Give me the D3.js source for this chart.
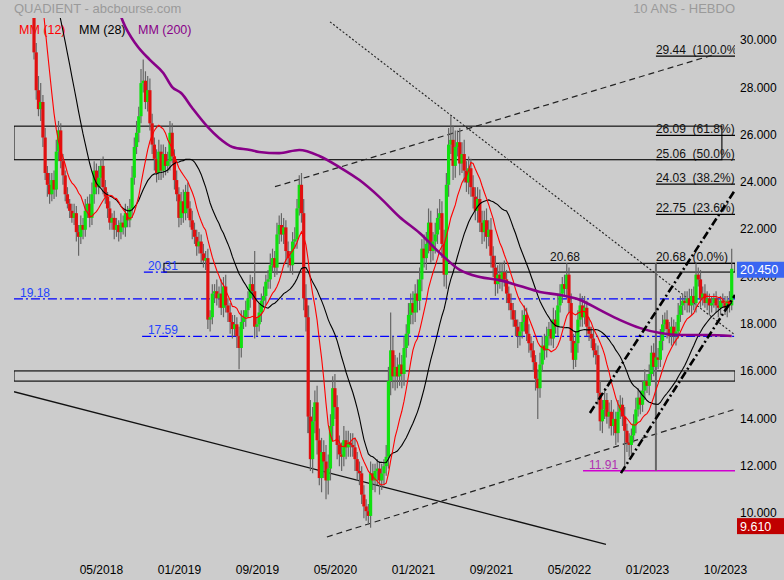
<!DOCTYPE html>
<html><head><meta charset="utf-8">
<script src="https://cdnjs.cloudflare.com/ajax/libs/d3/7.8.5/d3.min.js"></script>
<style>
html,body{margin:0;padding:0;background:#cccccc;}
svg{display:block;font-family:Arial,"Liberation Sans",sans-serif;}
</style></head><body>
<svg id="c" width="784" height="580"></svg>
<script>
// ---- DATA (weekly closes) ----
const closes = [
29.6,28.0,27.2,27.5,26.0,24.5,24.0,23.6,24.2,23.8,
25.4,26.3,25.0,24.4,23.6,23.2,22.9,22.6,22.8,22.0,
21.8,22.3,22.1,22.9,23.2,22.6,23.6,24.6,23.9,24.3,
24.8,23.9,23.5,23.0,22.4,22.6,22.1,22.3,22.0,22.4,
22.2,22.8,22.5,23.0,24.3,25.6,26.2,26.9,28.3,28.4,
27.5,28.0,26.6,25.7,25.1,24.5,25.4,24.6,25.3,24.8,
25.0,26.2,25.2,24.2,23.6,22.6,23.3,22.8,23.7,23.0,
22.5,22.1,21.8,21.4,21.6,21.1,20.8,20.9,18.3,18.4,
19.4,19.5,19.2,19.4,18.8,19.7,18.9,18.6,18.2,17.9,
18.1,17.6,17.1,18.2,18.4,18.7,19.2,19.8,19.5,18.0,
18.1,18.6,19.1,19.3,19.9,20.0,20.6,20.9,20.5,21.9,
22.3,21.9,22.2,21.2,20.9,20.6,21.6,21.7,23.0,24.0,
22.8,19.2,18.4,14.2,12.4,14.0,14.8,13.2,11.6,12.7,
12.3,11.5,12.0,13.8,15.4,14.6,13.0,12.6,12.5,13.2,
12.9,13.1,13.0,12.9,12.4,11.9,11.8,10.9,10.4,10.2,
10.0,11.8,11.5,11.9,12.0,11.5,11.8,12.1,12.5,15.7,
17.0,15.9,16.3,15.9,16.4,16.0,17.1,17.7,18.5,19.0,
18.6,19.4,19.1,20.0,21.3,20.9,21.5,22.4,21.2,21.6,
21.9,22.6,22.8,21.5,20.2,24.0,25.7,25.9,24.8,25.6,
25.8,24.9,25.3,24.6,24.1,24.7,23.9,23.5,22.9,23.4,
22.4,22.0,22.5,21.8,22.1,21.0,20.5,19.8,20.2,19.9,
20.3,20.0,19.4,19.0,18.7,18.3,18.0,17.6,17.8,18.2,
18.5,17.7,17.3,17.0,16.5,15.8,15.4,16.4,17.2,17.0,
17.6,17.9,17.5,18.3,18.0,18.9,19.4,19.8,19.6,20.2,
19.0,17.4,16.6,17.3,18.3,18.9,18.4,18.8,18.0,17.7,
17.5,17.0,16.8,15.2,14.0,14.5,14.9,14.2,14.4,13.8,
14.1,13.5,14.4,14.7,14.2,13.6,13.1,13.0,13.4,13.9,
14.5,15.0,14.7,15.3,15.7,15.5,16.0,16.9,16.3,16.7,
16.6,17.4,18.1,18.3,17.9,17.6,18.0,17.6,17.8,18.5,
18.9,19.1,19.0,19.2,18.9,19.3,19.0,20.2,20.0,19.2,
19.4,19.0,19.2,18.9,19.0,19.2,18.9,18.8,19.1,19.0,
18.8,19.1,18.9,20.45];
const firstOpen = 31.6;
// upper / lower wick lengths
const wickUp = [
1.2,0.4,0.6,0.8,0.3,0.4,0.3,0.5,0.3,0.4,
0.5,0.4,0.3,0.3,0.2,0.3,0.2,0.3,0.4,0.3,
0.3,0.4,0.3,0.5,0.3,0.4,0.5,0.4,0.3,0.5,
0.3,0.4,0.3,0.2,0.3,0.2,0.3,0.3,0.2,0.4,
0.3,0.4,0.3,0.4,0.5,0.4,0.5,0.4,0.6,0.9,
0.4,0.6,0.5,0.4,0.3,0.4,0.5,0.3,0.4,0.3,
0.4,0.5,0.4,0.3,0.4,0.3,0.4,0.5,0.3,0.4,
0.3,0.4,0.3,0.3,0.4,0.3,0.4,0.3,0.4,0.3,
0.4,0.3,0.5,0.3,0.6,0.4,0.5,0.3,0.4,0.3,
0.4,0.3,0.4,0.5,0.3,0.4,0.3,0.4,0.3,1.7,
0.3,0.4,0.3,0.4,0.3,0.4,0.5,0.4,0.3,0.5,
0.4,0.5,0.4,0.3,0.4,0.3,0.4,0.5,0.4,0.4,
0.5,0.6,0.6,0.5,0.7,0.6,0.5,0.7,0.5,0.6,
0.5,0.7,0.6,0.5,0.5,0.6,0.5,0.4,0.5,0.6,
0.4,0.5,0.4,0.5,0.4,0.3,0.4,0.3,0.4,0.3,
0.3,0.5,0.4,0.3,0.4,0.3,0.4,0.3,0.5,0.6,
1.6,0.6,0.5,0.4,0.5,0.4,0.5,0.4,0.5,0.4,
0.5,0.4,0.6,0.5,0.4,0.6,0.5,0.6,0.5,0.4,
0.5,0.4,0.6,0.5,0.6,0.5,0.7,1.0,0.6,0.7,
0.5,0.6,0.5,0.6,0.4,0.5,0.4,0.5,0.4,0.5,
0.4,0.5,0.4,0.5,0.4,0.5,0.4,0.5,0.4,0.5,
0.4,0.5,0.4,0.3,0.4,0.3,0.4,0.3,0.4,0.5,
0.4,0.3,0.4,0.3,0.4,0.3,0.4,0.5,0.4,0.5,
0.4,0.3,0.4,0.5,0.4,0.5,0.4,0.3,0.4,0.48,
0.3,0.4,0.3,0.5,0.4,0.5,0.4,0.5,0.3,0.4,
0.3,0.4,0.3,0.4,0.5,0.4,0.5,0.3,0.4,0.5,
0.4,0.3,0.5,0.4,0.3,0.4,0.3,0.4,0.3,0.4,
0.5,0.4,0.3,0.4,0.5,0.3,0.4,0.3,0.4,3.98,
0.4,0.5,0.4,0.3,0.4,0.3,0.4,0.3,0.4,0.5,
0.4,0.3,0.4,0.3,0.4,0.3,0.4,0.48,0.3,0.4,
0.3,0.4,0.3,0.2,0.3,0.2,0.3,0.3,0.2,0.3,
0.3,0.2,0.4,0.85];
const wickDown = [
0.3,0.4,0.3,0.5,0.4,0.3,0.5,0.4,0.3,0.4,
0.3,0.4,0.3,0.4,0.3,0.2,0.3,0.2,0.3,0.4,
0.8,0.3,0.4,0.3,0.3,0.4,0.3,0.4,0.3,0.3,
0.4,0.3,0.3,0.4,0.3,0.3,0.4,0.3,0.4,0.3,
0.3,0.4,0.3,0.3,0.4,0.3,0.3,0.4,0.3,0.4,
0.3,0.4,0.3,0.4,0.5,0.4,0.3,0.4,0.3,0.4,
0.3,0.4,0.3,0.4,0.3,0.4,0.3,0.4,0.3,0.4,
0.3,0.4,0.3,0.4,0.3,0.4,0.3,0.4,0.4,0.5,
0.3,0.4,0.3,0.4,0.3,0.4,0.3,0.4,0.5,0.4,
0.3,0.5,0.9,0.4,0.3,0.4,0.3,0.4,0.3,0.5,
0.4,0.3,0.4,0.3,0.4,0.3,0.4,0.3,0.4,0.3,
0.4,0.3,0.4,0.5,0.4,0.3,0.4,0.3,0.4,0.3,
0.4,0.5,0.6,0.7,0.5,0.6,0.5,0.6,0.3,0.6,
0.7,0.8,0.6,0.5,0.6,0.5,0.6,0.5,0.6,0.4,
0.5,0.4,0.5,0.4,0.5,0.4,0.5,0.4,0.5,0.4,
0.39,0.5,0.4,0.5,0.6,0.6,0.4,0.5,0.4,0.5,
0.6,0.5,0.6,0.5,0.4,0.6,0.5,0.4,0.5,0.4,
0.5,0.4,0.5,0.4,0.5,0.4,0.5,0.4,0.5,0.4,
0.5,0.4,0.5,0.6,0.5,0.6,0.5,0.4,0.6,0.5,
0.4,0.5,0.4,0.5,0.4,0.5,0.4,0.5,0.4,0.5,
0.4,0.5,0.4,0.5,0.4,0.5,0.4,0.5,0.4,0.3,
0.4,0.3,0.4,0.3,0.4,0.3,0.4,0.5,0.4,0.3,
0.4,0.3,0.4,0.3,0.4,0.5,1.3,0.4,0.3,0.4,
0.3,0.4,0.3,0.4,0.3,0.4,0.3,0.4,0.3,0.4,
0.4,0.5,0.4,0.3,0.4,0.3,0.4,0.3,0.4,0.3,
0.4,0.3,0.4,0.5,0.4,0.5,0.4,0.3,0.5,0.4,
0.4,0.5,0.4,0.3,0.4,1.69,0.4,0.5,0.4,0.3,
0.4,0.3,0.4,0.3,0.4,0.3,0.4,0.3,0.4,4.39,
0.4,0.3,0.4,0.3,0.4,0.3,0.4,0.3,0.4,0.3,
0.3,0.4,0.3,0.4,0.3,0.4,0.3,0.4,0.3,0.4,
0.3,0.2,0.3,0.4,0.3,0.2,0.3,0.4,0.3,0.2,
0.3,0.4,0.3,0.2];
// weeks before the visible window (feed the moving averages)
const priorCloses = [37.5,37.8,38.2,37.6,37.9,38.4,37.8,37.2,37.6,37.9,37.3,36.8,37.2,36.6,36.9,36.3,36.8,36.2,35.7,36.1,35.6,35.2,34.6,35.0,34.1,33.4,32.3];
// MM(200)
const mm200Idx = [38,40,46,52,58,62,66,71,78,83,89,97,101,110,119,128,137,146,155,164,173,182,191,200,209,218,227,236,245,254,263,272,281,290,302,313];
const mm200Val = [31.4,30.88,29.91,29.28,28.73,28.13,27.88,27.25,26.44,25.98,25.6,25.47,25.39,25.34,25.47,25.22,24.75,24.2,23.48,22.64,21.96,21.12,20.4,20.1,19.97,19.72,19.47,19.34,19.13,18.7,18.28,17.94,17.73,17.65,17.65,17.61];

const xTickIdx = [30,65,100,135,170,205,240,275,310];
const xTickLabels = ["05/2018","01/2019","09/2019","05/2020","01/2021","09/2021","05/2022","01/2023","10/2023"];
const yTicks = [10,12,14,16,18,20,22,24,26,28,30];

const fibLevels = [29.44,26.09,25.06,24.03,22.75,20.68];
const fibPct = ["100.0%","61.8%","50.0%","38.2%","23.6%","0.0%"];
const fibFromIdx = 279;
const lastPrice = 20.45, minPrice = 9.61;
// support / resistance zones
const zoneLow = [25.06, 20.31, 15.70];
const zoneHigh = [26.48, 20.68, 16.13];
const zoneFrom = [-9, 58.3, -9];
const zoneTo = [308.6, 314.5, 314.5];
// blue levels
const blueLevels = [19.18, 17.59, 20.31];
const blueFrom = [-9, 48.5, 49.3];
const blueTo = [314.5, 314.5, 59.7];
const blueLabelIdx = [-6.3, 51.1, 51.1];
// trend lines [i1,v1,i2,v2]
const trendSolid = [[-9, 15.25, 256.6, 8.80]];
const trendDashed = [[131.4, 9.11, 314.5, 14.51],[108.1, 23.92, 304.2, 29.48]];
const trendDotted = [[132.8, 30.89, 314.5, 17.65]];
const trendBold = [[249.4, 14.35, 314.5, 23.78],[263.3, 11.81, 314.5, 19.34]];
const lowLevel = 11.91, lowFrom = 246.3;
const highLabel = 20.68, highLabelIdx = 231.5;

// ---- CHART ----
const svg = d3.select("#c");
const W = 784, H = 580;
const plotL = 14, plotR = 735, plotT = 18, plotB = 548;
const x = d3.scaleLinear().domain([0, 313]).range([34, 731.7]);
const y = d3.scaleLinear().domain([10, 30]).range([515.9, 42.9]);

svg.append("rect").attr("width", W).attr("height", H).attr("fill", "#cccccc");

// titles and legend (drawn under the plot, as in the reference)
svg.append("text").attr("x", 14).attr("y", 13).attr("font-size","13px").attr("fill","#9a9a9a")
  .text("QUADIENT - abcbourse.com");
svg.append("text").attr("x", 735).attr("y", 13).attr("text-anchor","end").attr("font-size","13px").attr("fill","#9a9a9a")
  .text("10 ANS - HEBDO");
const legNames = ["MM (12)","MM (28)","MM (200)"];
const legColors = ["#ff0000","#000000","#880088"];
const legX = [19, 79, 138];
legNames.forEach((n,i)=>{
  svg.append("text").attr("x", legX[i]).attr("y", 34).attr("font-size","12.5px").attr("fill", legColors[i]).text(n);
});

svg.append("clipPath").attr("id","clip").append("rect")
  .attr("x", plotL).attr("y", plotT).attr("width", plotR - plotL).attr("height", plotB - plotT);
const g = svg.append("g").attr("clip-path","url(#clip)");

// zones
zoneLow.forEach((lo,i)=>{
  g.append("rect").attr("x", x(zoneFrom[i])).attr("width", x(zoneTo[i]) - x(zoneFrom[i]))
   .attr("y", y(zoneHigh[i])).attr("height", y(lo) - y(zoneHigh[i]))
   .attr("fill","none").attr("stroke","#000").attr("stroke-width",1.1);
});

// blue levels
blueLevels.forEach((v,i)=>{
  g.append("line").attr("x1", x(blueFrom[i])).attr("x2", x(blueTo[i]))
   .attr("y1", y(v)).attr("y2", y(v)).attr("stroke","#0000ff").attr("stroke-width",1.2)
   .attr("stroke-dasharray","9,3,2,3");
  g.append("text").attr("x", x(blueLabelIdx[i])).attr("y", y(v) - 2)
   .attr("fill","#2343ff").attr("font-size","12px").text(v.toFixed(2));
});

// fib levels
fibLevels.forEach((v,i)=>{
  g.append("line").attr("x1", x(fibFromIdx)).attr("x2", plotR).attr("y1", y(v)).attr("y2", y(v))
   .attr("stroke","#000").attr("stroke-width",1.2);
  g.append("text").attr("x", x(fibFromIdx)).attr("y", y(v) - 2).attr("font-size","12px")
   .attr("fill","#111").style("white-space","pre").text(v.toFixed(2) + "  (" + fibPct[i] + ")");
});
g.append("text").attr("x", x(highLabelIdx)).attr("y", y(highLabel) - 2).attr("font-size","12px")
  .attr("fill","#111").text(highLabel.toFixed(2));

// low level (magenta)
g.append("line").attr("x1", x(lowFrom)).attr("x2", plotR).attr("y1", y(lowLevel)).attr("y2", y(lowLevel))
  .attr("stroke","#d000d0").attr("stroke-width",1.3);
g.append("text").attr("x", x(lowFrom) + 6).attr("y", y(lowLevel) - 2).attr("font-size","12px")
  .attr("fill","#b030b0").text(lowLevel.toFixed(2));

// trend lines
function tl(arr, stroke, width, dash){
  arr.forEach(d=>{
    g.append("line").attr("x1", x(d[0])).attr("y1", y(d[1])).attr("x2", x(d[2])).attr("y2", y(d[3]))
     .attr("stroke", stroke).attr("stroke-width", width).attr("stroke-dasharray", dash);
  });
}
tl(trendSolid, "#111", 1.3, null);
tl(trendDashed, "#222", 1.2, "6,4");
tl(trendDotted, "#222", 1.1, "2,2");

// candles
const candles = closes.map((c,j)=>{
  const o = j === 0 ? firstOpen : closes[j-1];
  return {j, o, c, h: Math.max(o,c) + wickUp[j], l: Math.min(o,c) - wickDown[j]};
});
g.append("g").selectAll("line").data(candles).join("line")
  .attr("x1", d=>x(d.j)).attr("x2", d=>x(d.j)).attr("y1", d=>y(d.h)).attr("y2", d=>y(d.l))
  .attr("stroke","#666").attr("stroke-width", d => (d.h - d.l > 5 ? 2 : 1.2));
g.append("g").selectAll("rect").data(candles).join("rect")
  .attr("x", d=>x(d.j) - 1.6).attr("width", 3.2)
  .attr("y", d=>y(Math.max(d.o,d.c))).attr("height", d=>Math.max(1, Math.abs(y(d.o) - y(d.c))))
  .attr("fill", d=> d.c >= d.o ? "#10e010" : "#e01010");

// moving averages
const all = priorCloses.concat(closes), P = priorCloses.length;
function mm(n){
  return closes.map((c,j)=>{
    const k = j + P;
    const s = all.slice(k - n + 1, k + 1);
    return {j, v: d3.mean(s)};
  });
}
const line = d3.line().x(d=>x(d.j)).y(d=>y(d.v));
g.append("path").datum(mm(28)).attr("d", line).attr("fill","none").attr("stroke","#000").attr("stroke-width",1.1);
g.append("path").datum(mm(12)).attr("d", line).attr("fill","none").attr("stroke","#ff0000").attr("stroke-width",1.1);
const mm200 = mm200Idx.map((j,i)=>({j, v: mm200Val[i]}));
g.append("path").datum(mm200).attr("d", line.curve(d3.curveMonotoneX)).attr("fill","none")
  .attr("stroke","#880088").attr("stroke-width",2.6);

// bold dash-dot channel
tl(trendBold, "#000", 2.6, "8,3,2,3");

// right axis
const ay = svg.append("g").attr("transform", `translate(${plotR},0)`)
  .call(d3.axisRight(y).tickValues(yTicks).tickFormat(d3.format(".3f")).tickSize(0).tickPadding(5));
ay.select(".domain").remove();
ay.selectAll("text").attr("y", -3).attr("font-size","12px").attr("fill","#000")
  .attr("font-family","Arial, 'Liberation Sans', sans-serif");

// bottom axis
const ax = svg.append("g").attr("transform","translate(0,565)")
  .call(d3.axisBottom(x).tickValues(xTickIdx).tickFormat((d,i)=>xTickLabels[i]).tickSize(0).tickPadding(0));
ax.select(".domain").remove();
ax.selectAll("text").attr("font-size","12px").attr("fill","#000")
  .attr("font-family","Arial, 'Liberation Sans', sans-serif");

// price boxes (drawn over the axis, as in the reference)
function priceBox(v, fill){
  svg.append("rect").attr("x", 737).attr("y", y(v) - 7).attr("width", 47).attr("height", 16).attr("fill", fill);
  svg.append("text").attr("x", 740).attr("y", y(v) + 5.5).attr("font-size","12.5px").attr("fill","#fff")
    .text(d3.format(".3f")(v));
}
priceBox(lastPrice, "#3a66f2");
priceBox(minPrice, "#c00000");
</script>
</body></html>
